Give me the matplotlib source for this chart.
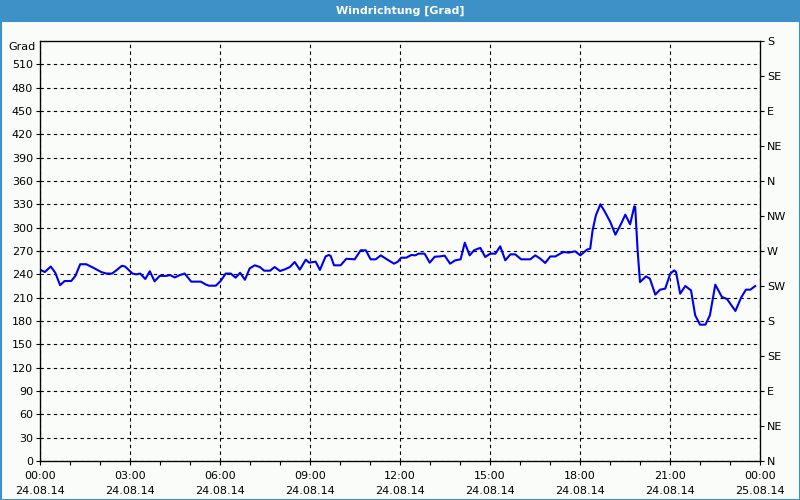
import matplotlib
matplotlib.use("Agg")
import matplotlib.pyplot as plt
from matplotlib.patches import Rectangle

# Stunden seit 24.08.14 00:00 und Windrichtung in Grad
stunden = [0.02, 0.16, 0.36, 0.51, 0.67, 0.82, 1.04, 1.18, 1.34, 1.54, 1.77, 2.04, 2.21, 2.40,
           2.54, 2.73, 2.84, 3.08, 3.21, 3.34, 3.51, 3.66, 3.82, 3.99, 4.21, 4.34, 4.49, 4.66,
           4.82, 4.93, 5.04, 5.36, 5.52, 5.63, 5.86, 6.02, 6.19, 6.36, 6.52, 6.67, 6.83, 6.99,
           7.16, 7.33, 7.47, 7.67, 7.82, 8.00, 8.16, 8.33, 8.49, 8.66, 8.86, 8.97, 9.19, 9.33,
           9.52, 9.63, 9.69, 9.80, 10.02, 10.21, 10.49, 10.69, 10.86, 11.02, 11.19, 11.36, 11.51,
           11.66, 11.80, 11.93, 12.04, 12.21, 12.38, 12.51, 12.62, 12.82, 12.99, 13.16, 13.32,
           13.49, 13.67, 13.84, 14.02, 14.16, 14.32, 14.47, 14.60, 14.68, 14.84, 15.01, 15.18,
           15.34, 15.51, 15.68, 15.84, 16.04, 16.34, 16.51, 16.68, 16.84, 17.01, 17.18, 17.34,
           17.46, 17.62, 17.84, 18.01, 18.23, 18.34, 18.42, 18.53, 18.68, 18.82, 19.01, 19.18,
           19.37, 19.51, 19.67, 19.81, 19.84, 19.92, 20.00, 20.20, 20.33, 20.51, 20.67, 20.84,
           21.01, 21.14, 21.20, 21.34, 21.51, 21.70, 21.84, 22.00, 22.18, 22.33, 22.51, 22.73,
           22.90, 23.18, 23.37, 23.53, 23.68, 23.84]
grad = [245.6, 243, 250, 242, 226, 231.4, 231.4, 238, 253, 253, 248.6, 243, 241, 241,
        245, 251, 250, 241, 240, 241, 234, 244, 231, 238, 238, 239, 236, 239,
        241, 236, 230.6, 230.6, 227, 225.4, 225.4, 231.4, 241, 241, 235.7, 242, 233, 247.7,
        251.6, 249.4, 244.7, 244.7, 249.4, 244.3, 246.4, 249.4, 255.9, 246, 258.9, 255, 256.3, 245.6,
        263, 264.9, 263.6, 251.6, 251.6, 260, 259.3, 270.9, 270.9, 259.3, 259.3, 264.4, 260.6,
        257, 253.7, 256.3, 261.4, 261.4, 264.9, 264.4, 266.6, 266.6, 255, 262.7, 263,
        264, 253.7, 258, 259.3, 280.7, 264.4, 270.9, 273, 273.9, 262.3, 266.6, 266.6,
        276, 258, 265.7, 265.7, 259.3, 259.3, 264.4, 260, 254.6, 263, 263, 266.6,
        268.7, 267.9, 269.6, 264.4, 271.7, 273, 296.6, 315.9, 330, 321, 307.3, 291,
        305, 316.7, 304.3, 327.4, 326.6, 270.9, 230, 237.4, 234.4, 213.9, 220.3, 221.6,
        240.9, 245.1, 243, 215.1, 225, 219.4, 187.3, 175.3, 175.3, 187.3, 226.7, 210.9,
        208.3, 192.9, 210, 220.3, 220.3, 225]

x_ticks = list(range(0, 25, 3))
x_labels = ["00:00\n24.08.14", "03:00\n24.08.14", "06:00\n24.08.14", "09:00\n24.08.14",
            "12:00\n24.08.14", "15:00\n24.08.14", "18:00\n24.08.14", "21:00\n24.08.14",
            "00:00\n25.08.14"]
y_ticks = list(range(0, 540, 30))
richtung_ticks = list(range(0, 541, 45))
richtung_labels = ["N", "NE", "E", "SE", "S", "SW", "W", "NW", "N", "NE", "E", "SE", "S"]

bg = "#fafcfa"
blau = "#3d91c7"

fig = plt.figure(figsize=(8, 5), dpi=100, facecolor=bg)

# Titelleiste und Rahmen
fig.patches.append(Rectangle((0, 1 - 21 / 500), 1, 21 / 500, transform=fig.transFigure,
                             facecolor=blau, edgecolor="none"))
fig.patches.append(Rectangle((0.5 / 800, 0.5 / 500), 1 - 1 / 800, 1 - 21 / 500,
                             transform=fig.transFigure, facecolor="none",
                             edgecolor=blau, linewidth=1.5))
fig.text(0.5, 1 - 10.5 / 500, "Windrichtung [Grad]", color="white", fontsize=8,
         fontweight="bold", ha="center", va="center")

ax = fig.add_axes([40 / 800, 39 / 500, 720 / 800, 420 / 500])
ax.set_facecolor(bg)
ax.plot(stunden, grad, color="#0000ee", linewidth=1.5)

ax.set_xlim(0, 24)
ax.set_ylim(0, 540)
ax.set_xticks(x_ticks)
ax.set_xticklabels(x_labels, linespacing=1.7)
ax.set_xticks(range(0, 25), minor=True)
ax.set_yticks(y_ticks)
ax.tick_params(axis="both", which="both", labelsize=8, length=3, width=0.8, pad=2,
               colors="black")
ax.tick_params(axis="x", pad=4)
ax.grid(True, which="major", color="black", linestyle=(0, (3, 3)), linewidth=0.8)
for s in ax.spines.values():
    s.set_color("black")
    s.set_linewidth(0.9)

ax.text(-0.006, 0.985, "Grad", transform=ax.transAxes, ha="right", va="center", fontsize=8)

ax2 = ax.twinx()
ax2.set_ylim(0, 540)
ax2.set_yticks(richtung_ticks)
ax2.set_yticklabels(richtung_labels)
ax2.tick_params(axis="y", labelsize=8, length=3, width=0.8, pad=2)

fig.savefig("out.png", dpi=100, facecolor=bg)
